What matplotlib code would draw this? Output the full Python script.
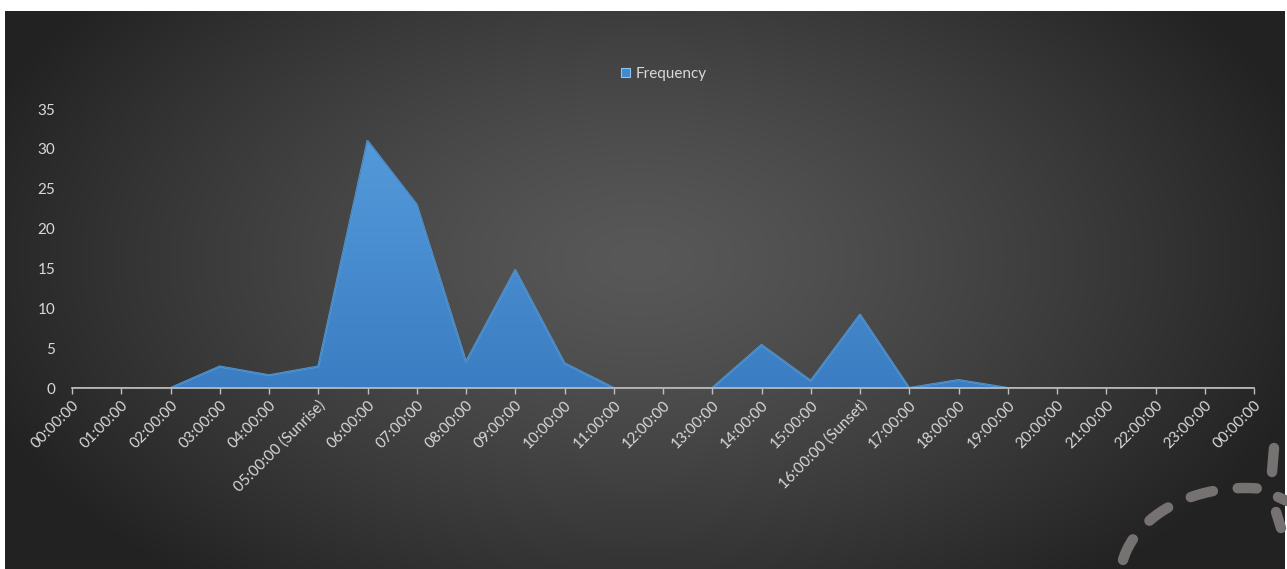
import numpy as np
import matplotlib
matplotlib.use("Agg")
import matplotlib.pyplot as plt
from matplotlib.patches import Patch

# -----------------------------
# Data
# -----------------------------
hours = [
    "00:00:00", "01:00:00", "02:00:00", "03:00:00", "04:00:00",
    "05:00:00 (Sunrise)", "06:00:00", "07:00:00", "08:00:00", "09:00:00",
    "10:00:00", "11:00:00", "12:00:00", "13:00:00", "14:00:00",
    "15:00:00", "16:00:00 (Sunset)", "17:00:00", "18:00:00", "19:00:00",
    "20:00:00", "21:00:00", "22:00:00", "23:00:00", "00:00:00",
]
frequency = [0, 0, 0, 2.7, 1.6, 2.7, 31, 23, 3.3, 14.8, 3.1, 0, 0, 0,
             5.4, 0.9, 9.2, 0, 1.0, 0, 0, 0, 0, 0, 0]
y_ticks = [0, 5, 10, 15, 20, 25, 30, 35]

W, H = 1287, 569
plt.rcParams['font.family'] = ['Lato', 'DejaVu Sans']

fig = plt.figure(figsize=(W / 100, H / 100), dpi=100)
fig.patch.set_facecolor("white")

# -----------------------------
# Background (radial gradient + decoration)
# -----------------------------
bg = fig.add_axes([0, 0, 1, 1])
bg.set_xlim(0, W)
bg.set_ylim(H, 0)
bg.axis("off")

gx, gy = np.meshgrid(np.linspace(5, 1285, 640), np.linspace(11, 569, 280))
r = np.sqrt(((gx - 640) / 700) ** 2 + ((gy - 260) / 420) ** 2)
r = np.clip(r, 0, 1)
shade = 0.345 - 0.21 * r ** 1.3
img = np.dstack([shade, shade, shade * 1.01])
bg.imshow(np.clip(img, 0, 1), extent=(5, 1285, 569, 11), aspect="auto",
          interpolation="bilinear", zorder=0)

# dashed arc decoration, bottom right
t = np.linspace(np.pi * 1.07, np.pi * 1.53, 80)
arc_x = 1245 + 125 * np.cos(t)
arc_y = 580 + 92 * np.sin(t)
bg.plot(arc_x, arc_y, color="#777272", lw=7.5, dashes=(2.2, 2.4),
        dash_capstyle="round", zorder=1)
bg.plot([1272, 1274], [472, 448], color="#777272", lw=7.5,
        solid_capstyle="round")
bg.plot([1278, 1287], [497, 501], color="#777272", lw=7.5,
        solid_capstyle="round")
bg.plot([1276, 1281], [512, 528], color="#777272", lw=7.5,
        solid_capstyle="round")

# -----------------------------
# Area chart
# -----------------------------
x0, x1 = 72, 1254
y0, y1 = 388, 109
ax = fig.add_axes([x0 / W, (H - y0) / H, (x1 - x0) / W, (y0 - y1) / H])
ax.patch.set_alpha(0)

x = np.arange(len(hours))
area = ax.fill_between(x, frequency, 0, color="#3f8ad2", lw=0, zorder=2)

# vertical gradient inside the area
grad = np.linspace(0, 1, 100).reshape(-1, 1)
c_top = np.array([0.34, 0.62, 0.87])
c_bot = np.array([0.23, 0.49, 0.76])
gimg = c_bot + (c_top - c_bot) * grad
im = ax.imshow(gimg.reshape(100, 1, 3), extent=(0, 24, 0, 35),
               origin="lower", aspect="auto", zorder=3)
im.set_clip_path(area.get_paths()[0], transform=ax.transData)
ax.plot(x, frequency, color="#5ba3e0", lw=1.4, zorder=4)
ax.plot(x, frequency, color="#2b5f96", lw=0.7, zorder=4, alpha=0.5)

ax.set_xlim(0, 24)
ax.set_ylim(0, 35)
ax.set_xticks(x)
ax.set_xticklabels(hours, rotation=45, ha="right", rotation_mode="anchor",
                   color="#d9d9d9", fontsize=11)
ax.set_yticks(y_ticks)
ax.set_yticklabels([str(v) for v in y_ticks], color="#d9d9d9", fontsize=11)
ax.tick_params(axis="y", length=0, pad=12)
ax.tick_params(axis="x", length=4, width=1, color="#bfbfbf", pad=3)

for side in ["top", "right", "left"]:
    ax.spines[side].set_visible(False)
ax.spines["bottom"].set_color("#bfbfbf")
ax.spines["bottom"].set_linewidth(1.2)
ax.spines["bottom"].set_zorder(5)

# -----------------------------
# Legend
# -----------------------------
handle = Patch(facecolor="#3f8ad2", edgecolor="#8cc4f0", lw=0.8)
fig.legend([handle], ["Frequency"], loc="center",
           bbox_to_anchor=(664 / W, 1 - 74 / H), frameon=False,
           handlelength=0.6, handleheight=0.6, handletextpad=0.4,
           labelcolor="#d9d9d9", fontsize=11)

fig.savefig("out.png", dpi=100, facecolor="white")
